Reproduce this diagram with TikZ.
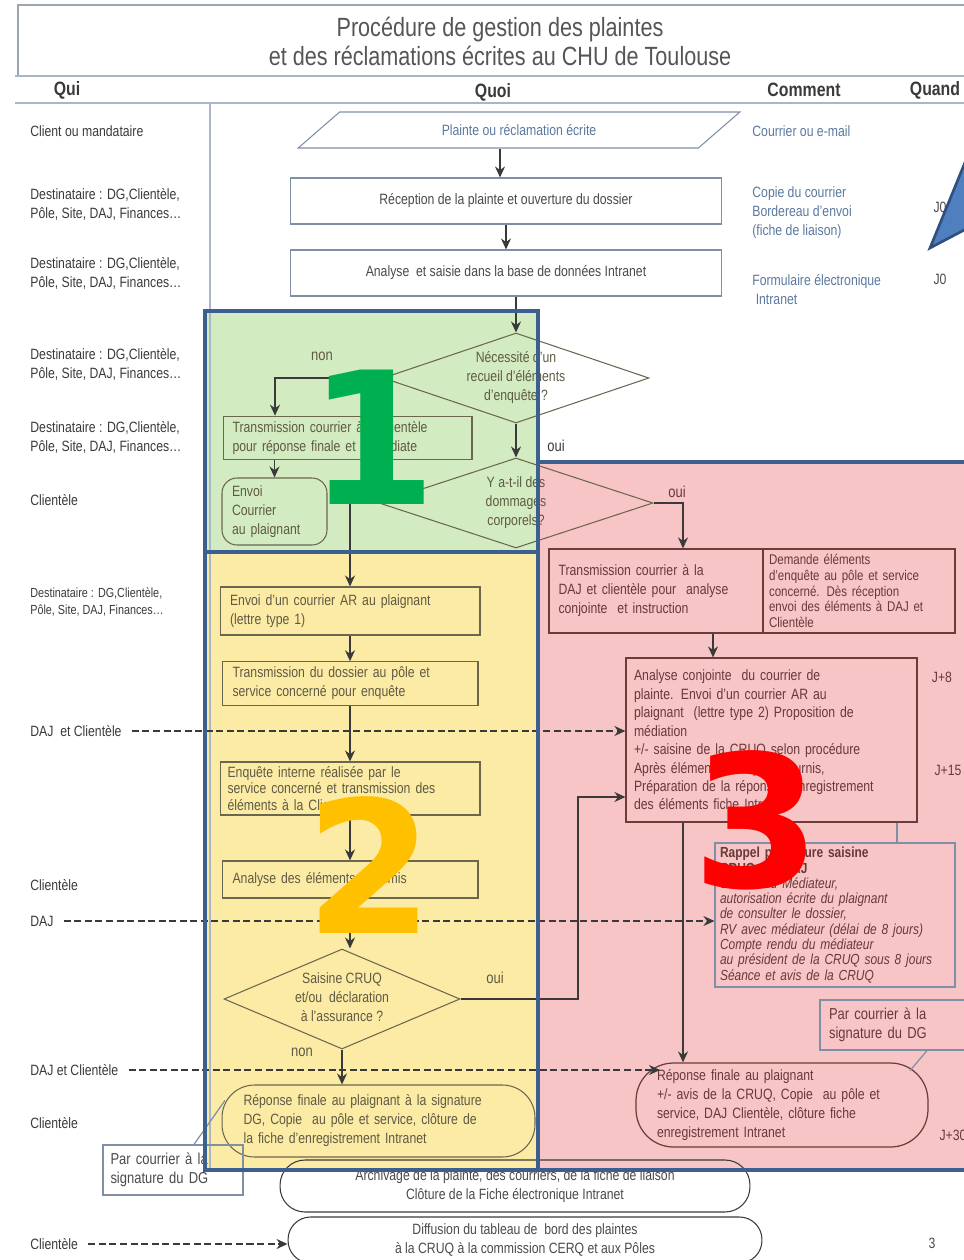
\documentclass[tikz,border=0pt]{standalone}
\usepackage{fontspec}
\setmainfont{Liberation Sans}[FakeStretch=0.82]
\newfontfamily\numfont{DejaVu Sans}
\usetikzlibrary{arrows.meta,shapes.geometric}
\definecolor{ink}      {HTML}{3A3A3A}
\definecolor{inkgray}  {HTML}{4A4A4A}
\definecolor{titlegray}{HTML}{555555}
\definecolor{rule}     {HTML}{A7B6CA}
\definecolor{howblue}  {HTML}{5B78A0}
\definecolor{boxline}  {HTML}{7F8FA6}
\definecolor{olive}    {HTML}{6B6650}
\definecolor{olivetxt} {HTML}{5F5A45}
\definecolor{redline}  {HTML}{6E3A3A}
\definecolor{redtxt}   {HTML}{6A3838}
\definecolor{greenbg}  {HTML}{D3EBC0}
\definecolor{yellowbg} {HTML}{FCEBA5}
\definecolor{pinkbg}   {HTML}{F7C5C5}
\definecolor{zone}     {HTML}{3B5F8E}
\definecolor{tri}      {HTML}{4F7FBE}
\definecolor{trid}     {HTML}{2F4F7F}
\definecolor{numgreen} {HTML}{00B050}
\definecolor{numyellow}{HTML}{FFC000}
\definecolor{numred}   {HTML}{FF0000}
\tikzset{
  qui/.style     ={anchor=west, align=left, inner sep=0pt, text=ink},
  how/.style     ={anchor=west, align=left, inner sep=0pt, text=howblue},
  head/.style    ={font=\fontsize{11}{13}\selectfont\bfseries, text=ink, inner sep=0pt},
  box/.style     ={draw=boxline, fill=white, line width=0.6pt, align=center,
                   inner sep=2pt, text=inkgray},
  oval/.style    ={draw=ink, line width=0.6pt, align=center, inner sep=2pt, text=inkgray},
  ybox/.style    ={draw=olive, line width=0.6pt, align=left, inner sep=3pt, text=olivetxt},
  rbox/.style    ={draw=redline, line width=0.7pt, align=left, inner sep=3pt, text=redtxt},
  bbox/.style    ={draw=boxline, line width=0.7pt, align=left, inner sep=3pt},
  decision/.style={diamond, draw=olive, line width=0.6pt, inner sep=0pt},
  dtext/.style   ={align=center, inner sep=0pt, text=olivetxt},
  yn/.style      ={font=\fontsize{9}{11}\selectfont, text=olivetxt, inner sep=0pt},
  arr/.style     ={-{Stealth[length=2.2mm,width=2mm]}, line width=0.8pt, draw=ink},
  dasharr/.style ={-{Stealth[length=2.2mm,width=2mm]}, line width=0.8pt, draw=ink,
                   dash pattern=on 4pt off 2pt},
  zonebox/.style ={draw=zone, line width=2.4pt},
  bignum/.style  ={font=\numfont\bfseries\fontsize{105}{105}\selectfont, inner sep=0pt},
}
\begin{document}
\begin{tikzpicture}[x=0.02cm,y=-0.02cm,font=\fontsize{8.5}{10.8}\selectfont]
  \useasboundingbox (0,0) rectangle (963,1260);

  \fill[greenbg] (205,311) rectangle (538,552);
  \fill[yellowbg] (205,552) rectangle (538,1170);
  \fill[pinkbg] (538,462) rectangle (975,1170);

  \draw[rule!70!gray, line width=0.6pt] (975,5) -- (18,5) -- (18,76);
  \draw[rule, line width=1.6pt] (15,76) -- (975,76);
  \draw[rule, line width=1.6pt] (15,103) -- (975,103);
  \draw[rule, line width=1.2pt] (210,103) -- (210,1170);

  \node[font=\fontsize{15}{16.5}\selectfont, text=titlegray, align=center] (titre) at (500,41)
    {Procédure de gestion des plaintes\\et des réclamations écrites au CHU de Toulouse};
  \node[head] (hqui) at (67,90) {Qui};
  \node[head] (hquoi) at (493,92) {Quoi};
  \node[head] (hcomment) at (804,90) {Comment};
  \node[head] (hquand) at (935,90) {Quand};

  \node[qui] (q1) at (30,131) {Client ou mandataire};
  \node[qui] (q2) at (30,204) {Destinataire : DG,Clientèle,\\Pôle, Site, DAJ, Finances…};
  \node[qui] (q3) at (30,273) {Destinataire : DG,Clientèle,\\Pôle, Site, DAJ, Finances…};
  \node[qui] (q4) at (30,364) {Destinataire : DG,Clientèle,\\Pôle, Site, DAJ, Finances…};
  \node[qui] (q5) at (30,437) {Destinataire : DG,Clientèle,\\Pôle, Site, DAJ, Finances…};
  \node[qui] (q6) at (30,500) {Clientèle};
  \node[qui, font=\fontsize{7.5}{9.5}\selectfont] (q7) at (30,602)
    {Destinataire : DG,Clientèle,\\Pôle, Site, DAJ, Finances…};
  \node[qui] (q8) at (30,731) {DAJ\ \ et Clientèle};
  \node[qui] (q9) at (30,885) {Clientèle};
  \node[qui] (q10) at (30,921) {DAJ};
  \node[qui] (q11) at (30,1070) {DAJ et Clientèle};
  \node[qui] (q12) at (30,1123) {Clientèle};
  \node[qui] (q13) at (30,1244) {Clientèle};

  \node[how] (c1) at (752,131) {Courrier ou e-mail};
  \node[how] (c2) at (752,213) {Copie du courrier\\Bordereau d'envoi\\(fiche de liaison)};
  \node[how] (c3) at (752,290) {Formulaire électronique\\\ Intranet};
  \node[text=inkgray, inner sep=0pt] (j1) at (940,207) {J0};
  \node[text=inkgray, inner sep=0pt] (j2) at (940,279) {J0};

  \node[trapezium, trapezium left angle=32, trapezium right angle=148,
        trapezium stretches=true, draw=boxline, fill=white, line width=0.6pt,
        minimum width=8.84cm, minimum height=0.72cm, inner sep=0pt, text=howblue]
    (plainte) at (519,130) {Plainte ou réclamation écrite};
  \node[box, minimum width=8.62cm, minimum height=0.92cm] (recep) at (506,201)
    {Réception de la plainte et ouverture du dossier};
  \node[box, minimum width=8.62cm, minimum height=0.92cm] (saisie) at (506,273)
    {Analyse\ \ et saisie dans la base de données Intranet};

  \node[decision, minimum width=5.32cm, minimum height=1.8cm] (d1) at (516,378) {};
  \node[dtext] (d1t) at (d1) {Nécessité d'un\\recueil d'éléments\\d'enquête ?};
  \node[ybox, minimum width=4.98cm, minimum height=0.8cm, text width=4.6cm] (transcli)
    at (347.5,438) {Transmission courrier à la clientèle\\pour réponse finale et immédiate};
  \node[ybox, rounded corners=0.3cm, minimum width=2.1cm, minimum height=1.34cm,
        text width=1.7cm] (envoi) at (274.5,511.5) {Envoi\\Courrier\\au plaignant};
  \node[decision, minimum width=5.48cm, minimum height=1.8cm] (d2) at (516,503) {};
  \node[dtext] (d2t) at (d2) {Y a-t-il des\\dommages\\corporels?};

  \node[ybox, minimum width=5.2cm, minimum height=0.96cm, text width=4.8cm] (envoiar)
    at (350,611) {Envoi d'un courrier AR au plaignant\\(lettre type 1)};
  \node[ybox, minimum width=5.12cm, minimum height=0.86cm, text width=4.7cm] (transdos)
    at (350,683.5) {Transmission du dossier au pôle et\\service concerné pour enquête};
  \node[ybox, font=\fontsize{8.5}{9.5}\selectfont, inner sep=1pt, minimum width=5.2cm,
        minimum height=1.06cm, text width=4.9cm] (enquete) at (350,788.5)
    {Enquête interne réalisée par le\\service concerné et transmission des\\éléments à la Clientèle};
  \node[ybox, minimum width=5.12cm, minimum height=0.74cm, text width=4.7cm] (analel)
    at (350,879.5) {Analyse des éléments transmis};
  \node[decision, minimum width=4.72cm, minimum height=2.0cm] (d3) at (342,999) {};
  \node[dtext] (d3t) at (342,997) {Saisine CRUQ\\et/ou\ \ déclaration\\à l'assurance ?};
  \node[ybox, rounded corners=0.65cm, minimum width=6.26cm, minimum height=1.44cm,
        text width=5.4cm] (repfin) at (378.5,1121)
    {Réponse finale au plaignant à la signature\\DG, Copie\ \ au pôle et service, clôture de\\la fiche d'enregistrement Intranet};
  \node[bbox, text=inkgray, font=\fontsize{9}{11}\selectfont, minimum width=2.8cm,
        minimum height=1cm, text width=2.5cm] (courrier1) at (173,1170)
    {Par courrier à la\\signature du DG};
  \node[oval, rounded corners=0.5cm, minimum width=9.4cm, minimum height=1.04cm] (archiv)
    at (515,1186) {Archivage de la plainte, des courriers, de la fiche de liaison\\Clôture de la Fiche électronique Intranet};
  \node[oval, rounded corners=0.45cm, minimum width=9.48cm, minimum height=0.92cm] (diffus)
    at (525,1240) {Diffusion du tableau de\ \ bord des plaintes\\à la CRUQ à la commission CERQ et aux Pôles};

  \node[rbox, minimum width=4.28cm, minimum height=1.68cm, text width=3.9cm] (transdaj)
    at (656,591) {Transmission courrier à la\\DAJ et clientèle pour\ \ analyse\\conjointe\ \ et instruction};
  \node[rbox, font=\fontsize{8}{9}\selectfont, inner sep=1pt, minimum width=3.84cm,
        minimum height=1.68cm, text width=3.6cm] (demande) at (859,591)
    {Demande éléments\\d'enquête au pôle et service\\concerné. Dès réception\\envoi des éléments à DAJ et\\Clientèle};
  \node[rbox, font=\fontsize{8.5}{10.5}\selectfont, minimum width=5.82cm,
        minimum height=3.28cm, text width=5.5cm] (conj) at (771.5,740)
    {Analyse conjointe\ \ du courrier de\\plainte. Envoi d'un courrier AR au\\plaignant\ \ (lettre type 2) Proposition de\\médiation\\+/- saisine de la CRUQ selon procédure\\Après éléments d'enquête fournis,\\Préparation de la réponse. Enregistrement\\des éléments fiche Intranet.};
  \node[bbox, text=redtxt, font=\fontsize{8.3}{8.7}\selectfont\itshape, inner sep=1.5pt,
        minimum width=4.8cm, minimum height=2.88cm, text width=4.6cm] (rappel) at (835,915)
    {\textbf{\upshape Rappel procédure saisine}\\\textbf{\upshape CRUQ par DAJ}\\Saisine du Médiateur,\\autorisation écrite du plaignant\\de consulter le dossier,\\RV avec médiateur (délai de 8 jours)\\Compte rendu du médiateur\\au président de la CRUQ sous 8 jours\\Séance et avis de la CRUQ};
  \node[bbox, text=redtxt, font=\fontsize{9}{11}\selectfont, minimum width=2.96cm,
        minimum height=1cm, text width=2.6cm] (courrier2) at (894,1025)
    {Par courrier à la\\signature du DG};
  \node[rbox, rounded corners=0.75cm, minimum width=5.84cm, minimum height=1.68cm,
        text width=5.0cm] (repfin2) at (782,1105)
    {Réponse finale au plaignant\\+/- avis de la CRUQ, Copie\ \ au pôle et\\service, DAJ Clientèle, clôture fiche\\enregistrement Intranet};
  \node[text=redtxt, inner sep=0pt] (j3) at (942,677) {J+8};
  \node[text=redtxt, inner sep=0pt] (j4) at (948,770) {J+15};
  \node[text=redtxt, inner sep=0pt] (j5) at (953,1135) {J+30};
  \node[text=inkgray, inner sep=0pt] (page) at (932,1243) {3};

  \node[yn] (non1) at (322,356) {non};
  \node[yn, text=ink] (oui1) at (556,446) {oui};
  \node[yn, text=redtxt] (oui2) at (677,492) {oui};
  \node[yn] (oui3) at (495,978) {oui};
  \node[yn] (non3) at (302,1052) {non};

  \coordinate (nonA) at (275,378);
  \coordinate (ouiA) at (683,503);
  \coordinate (ouiB) at (578,797);
  \coordinate (xa) at (713,0);
  \coordinate (xb) at (683,0);
  \coordinate (xc) at (897,0);
  \coordinate (xd) at (660,0);

  \draw[arr] ([xshift=-0.38cm]plainte.south) -- ([xshift=-0.38cm]plainte.south |- recep.north);
  \draw[arr] (recep.south) -- (saisie.north);
  \draw[arr] (d1.north |- saisie.south) -- (d1.north);
  \draw[arr] (d1.west) -- (nonA) -- (nonA |- transcli.north);
  \draw[arr] (envoi.north |- transcli.south) -- (envoi.north);
  \draw[arr] (d1.south) -- (d2.north);
  \draw[arr] (d2.west) -| (envoiar.north);
  \draw[arr] (d2.east) -- (ouiA) -- (ouiA |- transdaj.north);
  \draw[arr] (envoiar.south) -- (transdos.north);
  \draw[arr] (transdos.south) -- (enquete.north);
  \draw[arr] (enquete.south) -- (analel.north);
  \draw[arr] (analel.south) -- (analel.south |- d3.north);
  \draw[arr] (d3.south) -- (d3.south |- repfin.north);
  \draw[arr] (d3.east) -| (ouiB) -- (ouiB -| conj.west);
  \draw[arr] (xa |- transdaj.south) -- (xa |- conj.north);
  \draw[arr] (xb |- conj.south) -- (xb |- repfin2.north);
  \draw[boxline, line width=0.8pt] (xc |- conj.south) -- (xc |- rappel.north);

  \draw[dasharr] ([xshift=0.2cm]q8.east) -- (q8.east -| conj.west);
  \draw[dasharr] ([xshift=0.2cm]q10.east) -- (q10.east -| rappel.west);
  \draw[dasharr] ([xshift=0.2cm]q11.east) -- (q11.east -| xd);
  \draw[dasharr] ([xshift=0.2cm]q13.east) -- (q13.east -| diffus.west);

  \draw[boxline, line width=0.7pt] ([xshift=0.42cm]courrier1.north) -- +(0.62cm,0.88cm);
  \draw[boxline, line width=0.7pt] ([xshift=0.66cm]courrier2.south) -- +(-0.34cm,-0.4cm);

  \draw[zonebox] (205,311) rectangle (538,552);
  \draw[zonebox] (205,552) rectangle (538,1170);
  \draw[zonebox] (538,462) rectangle (975,1170);

  \filldraw[fill=tri, draw=trid, line width=1.5pt] (930,248) -- (968,155) -- (968,228) -- cycle;

  \node[bignum, text=numgreen] (n1) at (373,437) {1};
  \node[bignum, text=numyellow] (n2) at (370,865) {2};
  \node[bignum, text=numred] (n3) at (757,820) {3};
\end{tikzpicture}
\end{document}
